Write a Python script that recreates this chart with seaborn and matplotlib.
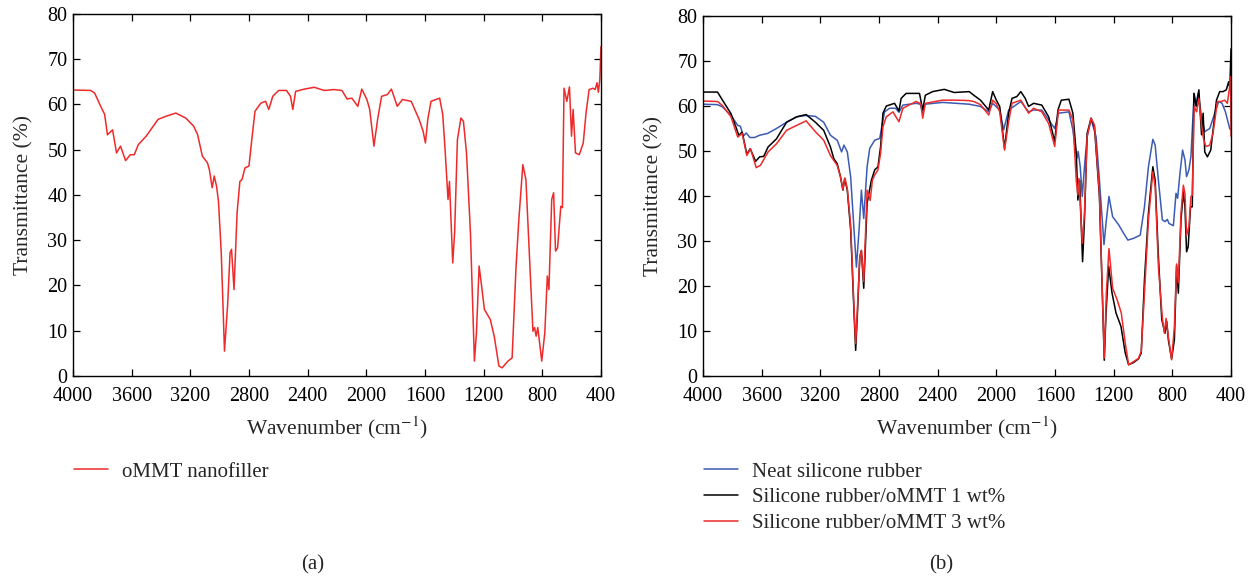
import numpy as np
import pandas as pd
import seaborn as sns
import matplotlib
matplotlib.use("Agg")
import matplotlib.pyplot as plt

# ---------------- data ----------------
# Panel (a): oMMT nanofiller
wn_ommt = [4000, 3879, 3852, 3811, 3784, 3765, 3730, 3703, 3676, 3641, 3609, 3582, 3555, 3501,
           3420, 3366, 3299, 3231, 3177, 3150, 3118, 3083, 3070, 3051, 3037, 3021, 3008, 2989,
           2967, 2946, 2929, 2919, 2902, 2881, 2862, 2848, 2827, 2800, 2781, 2759, 2719, 2687,
           2665, 2638, 2598, 2544, 2517, 2501, 2482, 2422, 2355, 2287, 2220, 2166, 2131, 2099,
           2058, 2031, 1996, 1977, 1948, 1923, 1896, 1856, 1829, 1789, 1754, 1694, 1640, 1613,
           1597, 1581, 1559, 1500, 1479, 1463, 1443, 1433, 1411, 1398, 1379, 1355, 1338, 1317,
           1290, 1263, 1249, 1231, 1214, 1195, 1155, 1128, 1096, 1074, 1034, 1006, 979, 960,
           933, 912, 885, 864, 853, 842, 831, 804, 783, 766, 755, 736, 723, 710, 696, 674, 663,
           652, 633, 615, 601, 590, 574, 548, 521, 502, 481, 454, 440, 427, 418, 408, 400]
t_ommt = [63.2, 63.1, 62.5, 59.6, 57.8, 53.3, 54.4, 49.3, 50.8, 47.6, 48.9, 48.9, 51.1, 53.0,
          56.7, 57.4, 58.1, 57.0, 55.2, 53.3, 48.6, 47.1, 45.6, 41.6, 44.2, 41.9, 38.6, 27.2,
          5.5, 15.5, 27.2, 28.0, 19.1, 36.1, 43.0, 43.4, 46.0, 46.4, 52.2, 58.5, 60.3, 60.7,
          58.9, 61.8, 63.1, 63.1, 61.8, 58.9, 62.9, 63.4, 63.8, 63.1, 63.3, 63.1, 61.2, 61.4,
          59.6, 63.4, 61.1, 58.9, 50.8, 56.7, 61.8, 62.2, 63.4, 59.6, 61.1, 60.7, 56.7, 54.1,
          51.5, 56.7, 60.7, 61.4, 57.8, 50.0, 39.0, 43.0, 25.0, 31.6, 52.2, 57.0, 56.3, 49.3,
          31.6, 3.3, 9.6, 24.3, 19.9, 14.7, 12.5, 8.8, 2.2, 1.8, 3.3, 4.0, 24.3, 34.6,
          46.7, 43.4, 24.3, 9.9, 10.7, 8.8, 10.7, 3.3, 9.6, 22.1, 19.1, 39.0, 40.5, 27.6, 28.3,
          37.5, 37.2, 63.6, 60.7, 63.9, 53.0, 58.9, 49.3, 48.9, 51.5, 58.1, 63.3, 63.6, 63.3,
          64.8, 62.7, 65.5, 72.8]

# Panel (b): neat silicone rubber
wn_neat = [4000, 3901, 3867, 3809, 3763, 3745, 3725, 3705, 3680, 3648, 3614, 3560, 3499, 3430,
           3361, 3297, 3234, 3177, 3131, 3085, 3055, 3039, 3016, 2993, 2970, 2954, 2936, 2920,
           2904, 2881, 2863, 2829, 2795, 2777, 2762, 2728, 2687, 2664, 2637, 2547, 2518, 2502,
           2486, 2366, 2185, 2108, 2052, 2025, 1977, 1950, 1916, 1833, 1780, 1746, 1690, 1643,
           1602, 1576, 1505, 1478, 1460, 1450, 1442, 1428, 1414, 1399, 1381, 1354, 1320, 1297,
           1266, 1252, 1232, 1207, 1166, 1132, 1103, 1064, 1019, 990, 963, 933, 917, 895, 868,
           850, 834, 823, 793, 775, 764, 748, 730, 714, 703, 687, 673, 664, 651, 640, 624, 601,
           579, 545, 511, 484, 461, 438, 409, 400]
t_neat = [60.4, 60.3, 59.8, 57.9, 55.7, 55.5, 53.3, 54.0, 53.0, 53.0, 53.5, 53.9, 55.0, 56.4,
          57.6, 57.9, 57.7, 56.4, 53.5, 52.4, 49.8, 51.3, 49.8, 44.2, 32.4, 24.2, 32.4, 41.3,
          35.0, 46.5, 50.6, 52.4, 52.8, 56.1, 58.7, 59.5, 59.5, 58.6, 60.2, 60.6, 60.4, 58.4,
          60.4, 60.8, 60.4, 59.9, 58.7, 60.6, 59.1, 54.7, 59.1, 61.0, 58.7, 59.1, 59.1, 56.9,
          55.0, 58.4, 58.7, 54.7, 49.9, 48.4, 49.9, 46.5, 39.9, 46.5, 53.2, 57.0, 53.2, 43.5,
          29.2, 34.0, 39.9, 35.4, 33.6, 31.7, 30.2, 30.6, 31.3, 37.6, 46.5, 52.6, 51.3, 43.5, 34.7,
          34.3, 34.8, 33.9, 33.4, 40.6, 39.5, 45.0, 50.2, 48.0, 44.3, 45.8, 48.9, 54.7, 62.8, 60.2,
          62.8, 57.6, 54.3, 55.0, 58.4, 61.0, 60.6, 58.7, 55.0, 54.6]

# Panel (b): silicone rubber / oMMT 1 wt%
wn_1wt = [4000, 3901, 3867, 3809, 3775, 3756, 3733, 3701, 3678, 3641, 3614, 3586, 3556, 3499,
          3430, 3361, 3297, 3234, 3177, 3131, 3108, 3085, 3062, 3046, 3034, 3016, 2993, 2970,
          2959, 2947, 2931, 2920, 2904, 2881, 2852, 2829, 2807, 2789, 2773, 2750, 2694, 2664,
          2649, 2615, 2524, 2502, 2484, 2434, 2355, 2287, 2185, 2154, 2108, 2052, 2025, 2000,
          1977, 1944, 1916, 1893, 1860, 1833, 1803, 1780, 1746, 1690, 1643, 1602, 1580, 1557,
          1505, 1478, 1455, 1444, 1432, 1412, 1399, 1381, 1354, 1331, 1297, 1264, 1252, 1234,
          1211, 1184, 1150, 1121, 1098, 1064, 1031, 1012, 990, 963, 933, 917, 895, 872, 861,
          850, 838, 827, 805, 786, 771, 759, 741, 725, 714, 703, 692, 676, 664, 653, 637, 619,
          601, 590, 579, 561, 538, 522, 499, 477, 454, 432, 416, 408, 400]
t_1wt = [63.1, 63.1, 61.3, 58.3, 55.3, 53.5, 54.2, 49.3, 50.5, 47.7, 48.7, 48.8, 50.9, 52.7,
         56.4, 57.6, 58.1, 56.4, 54.6, 50.9, 48.3, 47.2, 44.2, 41.3, 43.9, 41.3, 32.4, 13.9,
         5.7, 13.9, 26.4, 27.9, 19.5, 38.4, 43.5, 45.8, 46.5, 51.0, 58.4, 60.0, 60.6, 58.9,
         61.7, 62.8, 62.8, 59.1, 62.4, 63.2, 63.7, 63.0, 63.2, 62.4, 61.3, 59.1, 63.2, 61.3,
         59.9, 50.6, 58.4, 61.7, 62.1, 63.2, 61.7, 59.9, 60.6, 60.2, 57.6, 52.1, 59.1, 61.3,
         61.5, 58.4, 49.5, 39.1, 43.5, 25.4, 34.7, 53.9, 57.3, 55.4, 39.9, 3.5, 14.0, 24.4,
         18.4, 14.0, 11.0, 5.1, 2.5, 3.0, 3.8, 5.1, 21.4, 36.2, 46.5, 43.5, 26.5, 12.5, 11.0,
         9.5, 12.1, 8.0, 3.8, 8.0, 24.5, 18.4, 34.7, 40.9, 37.6, 27.6, 28.7, 37.6, 37.6, 62.8,
         59.9, 63.6, 53.6, 58.4, 49.8, 48.7, 50.2, 54.7, 61.3, 63.2, 63.2, 63.6, 65.4, 64.0, 72.7]

# Panel (b): silicone rubber / oMMT 3 wt%
wn_3wt = [4000, 3901, 3867, 3809, 3763, 3733, 3701, 3676, 3637, 3609, 3556, 3499, 3430, 3361,
          3297, 3234, 3177, 3131, 3085, 3062, 3046, 3032, 3016, 2993, 2970, 2959, 2947, 2931,
          2920, 2904, 2881, 2860, 2845, 2829, 2807, 2789, 2773, 2750, 2705, 2664, 2637, 2547,
          2515, 2502, 2484, 2366, 2276, 2185, 2154, 2108, 2052, 2025, 2000, 1977, 1944, 1916,
          1893, 1833, 1780, 1746, 1690, 1643, 1602, 1576, 1505, 1478, 1455, 1444, 1437, 1414,
          1399, 1381, 1354, 1331, 1297, 1264, 1250, 1232, 1207, 1177, 1148, 1121, 1098, 1064,
          1031, 1012, 990, 963, 933, 917, 895, 868, 854, 843, 827, 805, 786, 771, 759, 741, 725,
          714, 703, 687, 673, 664, 651, 635, 619, 601, 588, 572, 545, 522, 493, 466, 443, 425,
          409, 403, 400]
t_3wt = [61.1, 61.0, 60.1, 57.6, 53.1, 53.9, 49.0, 50.5, 46.3, 46.8, 49.8, 51.6, 54.6, 55.7,
         56.7, 54.3, 52.4, 49.0, 46.8, 44.2, 41.4, 44.0, 41.6, 33.5, 15.0, 7.2, 15.0, 26.4,
         27.9, 21.0, 41.3, 39.0, 43.5, 44.7, 45.8, 49.5, 55.4, 57.6, 58.7, 56.5, 59.5, 61.0,
         60.5, 57.3, 60.6, 61.3, 61.3, 61.2, 61.0, 60.3, 58.0, 61.3, 60.5, 58.7, 50.2, 56.5,
         60.6, 61.3, 58.4, 59.5, 58.7, 56.1, 51.0, 59.1, 59.1, 56.9, 43.5, 40.2, 43.9, 29.5,
         36.2, 53.2, 57.3, 55.8, 40.6, 4.0, 18.4, 28.3, 19.5, 17.0, 14.0, 7.3, 2.5, 3.2,
         3.9, 5.5, 18.4, 34.7, 45.4, 42.1, 24.3, 12.8, 9.5, 12.8, 8.7, 3.6, 11.0, 24.9, 20.7,
         36.2, 42.4, 40.6, 31.3, 33.2, 39.9, 40.2, 59.9, 58.7, 61.7, 55.8, 52.8, 51.0, 51.3,
         54.0, 61.0, 61.0, 61.3, 60.6, 64.3, 66.5, 53.3]

x_ticks = [4000, 3600, 3200, 2800, 2400, 2000, 1600, 1200, 800, 400]
y_ticks = [0, 10, 20, 30, 40, 50, 60, 70, 80]

# ---------------- style ----------------
sns.set_theme(style="ticks")
plt.rcParams["font.family"] = ["Liberation Serif", "DejaVu Serif"]
plt.rcParams["mathtext.fontset"] = "stix"
plt.rcParams["axes.edgecolor"] = "black"
plt.rcParams["axes.linewidth"] = 1.0

RED = "#ee2a2a"
BLUE = "#3b5bb5"
BLACK = "#000000"

fig = plt.figure(figsize=(12.56, 5.78), dpi=100)
ax1 = fig.add_axes([0.0581, 0.3495, 0.4204, 0.6263])
ax2 = fig.add_axes([0.5597, 0.3495, 0.4204, 0.6228])

df_a = pd.DataFrame({"wn": wn_ommt, "T": t_ommt})
sns.lineplot(data=df_a, x="wn", y="T", ax=ax1, color=RED, lw=1.1,
             estimator=None, sort=False, label="oMMT nanofiller")

series_b = [
    (wn_neat, t_neat, BLUE, "Neat silicone rubber"),
    (wn_1wt, t_1wt, BLACK, "Silicone rubber/oMMT 1 wt%"),
    (wn_3wt, t_3wt, RED, "Silicone rubber/oMMT 3 wt%"),
]
for wn, t, c, lab in series_b:
    d = pd.DataFrame({"wn": wn, "T": t})
    sns.lineplot(data=d, x="wn", y="T", ax=ax2, color=c, lw=1.1,
                 estimator=None, sort=False, label=lab)

for ax in (ax1, ax2):
    ax.set_xlim(4000, 400)
    ax.set_ylim(0, 80)
    ax.set_xticks(x_ticks)
    ax.set_yticks(y_ticks)
    ax.tick_params(direction="in", top=True, right=True, length=5, width=0.9,
                   labelsize=14.5, colors="black")
    ax.tick_params(axis="x", pad=8)
    ax.tick_params(axis="y", pad=4)
    ax.set_xlabel(r"Wavenumber (cm$^{-1}$)", fontsize=15.5, labelpad=6)
    ax.set_ylabel("Transmittance (%)", fontsize=15.5, labelpad=10)
    for s in ax.spines.values():
        s.set_visible(True)
        s.set_color("black")
    ax.get_legend().remove()

leg_kw = dict(loc="upper left", frameon=False, fontsize=15, handlelength=1.65,
              handletextpad=0.65, labelspacing=0.3, borderpad=0, borderaxespad=0)
h1, l1 = ax1.get_legend_handles_labels()
fig.legend(h1, l1, bbox_to_anchor=(74 / 1256, 1 - 462 / 578), **leg_kw)
h2, l2 = ax2.get_legend_handles_labels()
fig.legend(h2, l2, bbox_to_anchor=(704 / 1256, 1 - 462 / 578), **leg_kw)

fig.text(313 / 1256, 1 - 565 / 578, "(a)", ha="center", va="center", fontsize=15)
fig.text(941 / 1256, 1 - 565 / 578, "(b)", ha="center", va="center", fontsize=15)

fig.savefig("out.png", dpi=100)
